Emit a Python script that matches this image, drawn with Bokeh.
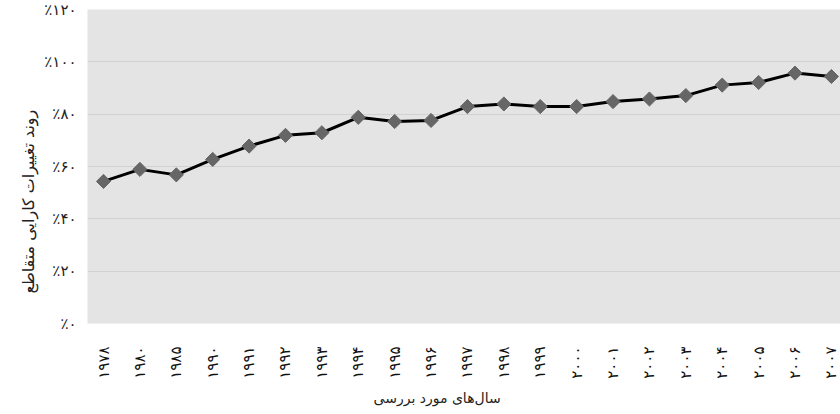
import math
from bokeh.plotting import figure
from bokeh.models import FixedTicker, Range1d, Title
from bokeh.embed import file_html
from bokeh.resources import INLINE

years = ["۱۹۷۸", "۱۹۸۰", "۱۹۸۵", "۱۹۹۰", "۱۹۹۱", "۱۹۹۲", "۱۹۹۳", "۱۹۹۴", "۱۹۹۵", "۱۹۹۶",
         "۱۹۹۷", "۱۹۹۸", "۱۹۹۹", "۲۰۰۰", "۲۰۰۱", "۲۰۰۲", "۲۰۰۳", "۲۰۰۴", "۲۰۰۵", "۲۰۰۶", "۲۰۰۷"]
values = [54.3, 58.9, 56.8, 62.7, 67.8, 71.9, 72.9, 78.8, 77.2, 77.6,
          82.9, 83.9, 82.9, 82.9, 84.8, 85.8, 87.1, 91.1, 92.1, 95.7, 94.4]
y_ticks = [0, 20, 40, 60, 80, 100, 120]
y_tick_labels = ["٪۰", "٪۲۰", "٪۴۰", "٪۶۰", "٪۸۰", "٪۱۰۰", "٪۱۲۰"]
x_title = "سال‌های مورد بررسی"
y_title = "روند تغییرات کارایی متقاطع"

idx = list(range(len(years)))

FONT = "DejaVu Sans"

p = figure(width=840, height=414, output_backend="svg", toolbar_location=None,
           x_range=Range1d(-0.44, 20.25), y_range=Range1d(0, 120),
           min_border_left=87, min_border_right=0, min_border_top=9, min_border_bottom=91)

p.background_fill_color = "#e4e4e4"
p.border_fill_color = "white"
p.outline_line_color = None

p.line(idx, values, line_color="black", line_width=3)
p.scatter(idx, values, marker="square", size=10, angle=math.pi / 4,
          fill_color="#666666", line_color="#666666")

# x axis
p.xaxis.ticker = FixedTicker(ticks=idx)
p.xaxis.major_label_overrides = {i: y for i, y in zip(idx, years)}
p.xaxis.major_label_orientation = math.pi / 2
p.xaxis.axis_line_color = None
p.xaxis.major_tick_line_color = None
p.xaxis.minor_tick_line_color = None
p.xaxis.major_label_text_font = FONT
p.xaxis.major_label_text_font_size = "15px"
p.xaxis.major_label_text_color = "#111111"
p.xaxis.major_label_standoff = 17

# y axis
p.yaxis.ticker = FixedTicker(ticks=y_ticks)
p.yaxis.major_label_overrides = {t: l for t, l in zip(y_ticks, y_tick_labels)}
p.yaxis.axis_line_color = None
p.yaxis.major_tick_line_color = None
p.yaxis.minor_tick_line_color = None
p.yaxis.major_label_text_font = FONT
p.yaxis.major_label_text_font_size = "15px"
p.yaxis.major_label_text_color = "#222222"
p.yaxis.major_label_standoff = 5

# axis titles as side titles (allow off-centre placement like the reference)
p.add_layout(Title(text=x_title, align="left", offset=286, standoff=13,
                   text_font=FONT, text_font_size="14px", text_font_style="normal",
                   text_color="#222222"), "below")
p.add_layout(Title(text=y_title, align="left", offset=30, standoff=8,
                   text_font=FONT, text_font_size="16px", text_font_style="normal",
                   text_color="#222222"), "left")

p.xgrid.grid_line_color = None
p.ygrid.grid_line_color = "#d2d2d2"
p.ygrid.grid_line_width = 1

open("out.html", "w").write(file_html(p, INLINE))
